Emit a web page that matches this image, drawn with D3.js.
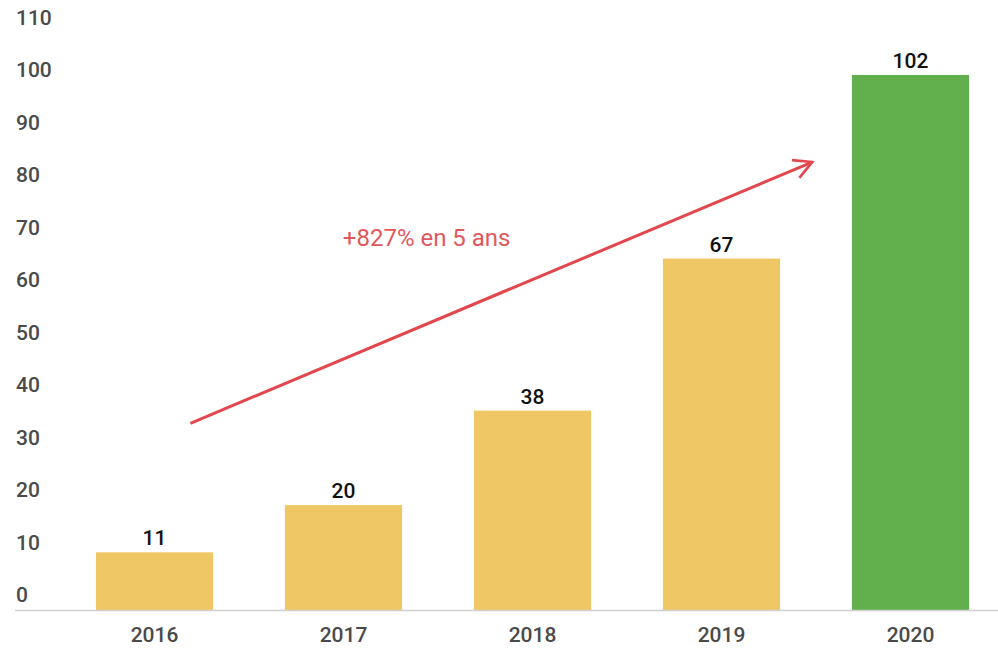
<!DOCTYPE html>
<html>
<head>
<meta charset="utf-8">
<script src="https://cdn.jsdelivr.net/npm/d3@7"></script>
<style>
  body { margin: 0; background: #fff; }
  text { font-family: Roboto, "Noto Sans", sans-serif; }
</style>
</head>
<body>
<div id="chart"></div>
<script>
// données du graphique
const years = ["2016", "2017", "2018", "2019", "2020"];
const values = [11, 20, 38, 67, 102];
const yTicks = [0, 10, 20, 30, 40, 50, 60, 70, 80, 90, 100, 110];
const barColors = ["#efc865", "#efc865", "#efc865", "#efc865", "#62af4d"];
// annotation : flèche en unités (indice d'année, valeur)
const arrowFrom = [0.19, 35.6];
const arrowTo = [3.48, 85.4];
const annotationText = "+827% en 5 ans";
const annotationPos = [1.44, 69.3];

const W = 998, H = 648;

const svg = d3.select("#chart")
    .append("svg")
    .attr("width", W)
    .attr("height", H);

const x = d3.scaleBand()
    .domain(years)
    .range([60, 1005])
    .paddingInner(0.38)
    .paddingOuter(0.19);

const y = d3.scaleLinear()
    .domain([0, 110])
    .range([610, 33]);

// position continue au centre des barres
const xi = d3.scaleLinear()
    .domain([0, 1])
    .range([x(years[0]) + x.bandwidth() / 2, x(years[1]) + x.bandwidth() / 2]);

// axe Y : libellés au-dessus de la ligne
svg.append("g")
    .selectAll("text")
    .data(yTicks)
    .enter()
    .append("text")
    .attr("x", 16)
    .attr("y", d => y(d) - 8)
    .attr("font-size", 21)
    .attr("font-weight", 500)
    .attr("fill", "#4a4a4a")
    .text(d => d);

// barres
svg.selectAll(".bar")
    .data(values)
    .enter()
    .append("rect")
    .attr("class", "bar")
    .attr("x", (d, i) => x(years[i]))
    .attr("y", d => y(d))
    .attr("width", x.bandwidth())
    .attr("height", d => y(0) - y(d))
    .attr("fill", (d, i) => barColors[i]);

// ligne de base
svg.append("line")
    .attr("x1", 15)
    .attr("x2", W)
    .attr("y1", y(0) + 0.5)
    .attr("y2", y(0) + 0.5)
    .attr("stroke", "#d0d0d0")
    .attr("stroke-width", 1.5);

// axe X
svg.append("g")
    .selectAll("text")
    .data(years)
    .enter()
    .append("text")
    .attr("x", d => x(d) + x.bandwidth() / 2)
    .attr("y", 642)
    .attr("text-anchor", "middle")
    .attr("font-size", 21)
    .attr("font-weight", 500)
    .attr("fill", "#4a4a4a")
    .text(d => d);

// valeurs au-dessus des barres
svg.selectAll(".val")
    .data(values)
    .enter()
    .append("text")
    .attr("class", "val")
    .attr("x", (d, i) => x(years[i]) + x.bandwidth() / 2)
    .attr("y", d => y(d) - 7)
    .attr("text-anchor", "middle")
    .attr("font-size", 21)
    .attr("font-weight", 500)
    .attr("fill", "#111")
    .text(d => d);

// flèche
svg.append("defs")
    .append("marker")
    .attr("id", "head")
    .attr("viewBox", "0 0 20 20")
    .attr("refX", 17)
    .attr("refY", 10)
    .attr("markerWidth", 24)
    .attr("markerHeight", 24)
    .attr("markerUnits", "userSpaceOnUse")
    .attr("orient", "auto")
    .append("path")
    .attr("d", "M2,2 L17,10 L2,18")
    .attr("fill", "none")
    .attr("stroke", "#e2474d")
    .attr("stroke-width", 2.2);

svg.append("line")
    .attr("x1", xi(arrowFrom[0]))
    .attr("y1", y(arrowFrom[1]))
    .attr("x2", xi(arrowTo[0]))
    .attr("y2", y(arrowTo[1]))
    .attr("stroke", "#e2474d")
    .attr("stroke-width", 3)
    .attr("marker-end", "url(#head)");

svg.append("text")
    .attr("x", xi(annotationPos[0]))
    .attr("y", y(annotationPos[1]))
    .attr("text-anchor", "middle")
    .attr("font-size", 24)
    .attr("fill", "#e0585c")
    .text(annotationText);
</script>
</body>
</html>
